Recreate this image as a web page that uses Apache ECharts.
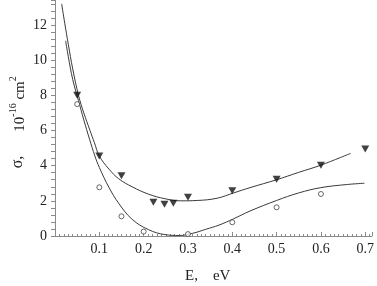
<!DOCTYPE html>
<html><head><meta charset="utf-8">
<script src="https://cdn.jsdelivr.net/npm/echarts@6/dist/echarts.min.js"></script>
<style>html,body{margin:0;padding:0;background:#fff}#c{width:377px;height:286px}</style>
</head><body><div id="c"></div>
<script>
// Measured points (filled triangles)
const triE = [0.05, 0.1, 0.15, 0.222, 0.247, 0.267, 0.3, 0.4, 0.5, 0.6, 0.7];
const triS = [8.0, 4.55, 3.43, 1.92, 1.80, 1.86, 2.20, 2.58, 3.22, 4.02, 4.95];
// Measured points (open circles)
const circE = [0.05, 0.1, 0.15, 0.2, 0.3, 0.4, 0.5, 0.6];
const circS = [7.5, 2.77, 1.12, 0.25, 0.11, 0.78, 1.63, 2.39];
// Upper fitted curve
const upE = [0.015, 0.022, 0.03, 0.04, 0.053, 0.065, 0.079, 0.089, 0.1, 0.122, 0.144, 0.174, 0.211, 0.248, 0.284, 0.321, 0.366, 0.403, 0.44, 0.5, 0.55, 0.6, 0.667];
const upS = [13.2, 12.1, 10.9, 9.5, 8.0, 7.0, 6.0, 5.3, 4.55, 3.8, 3.25, 2.8, 2.38, 2.12, 2.0, 2.02, 2.15, 2.45, 2.75, 3.2, 3.62, 4.03, 4.7];
// Lower fitted curve
const loE = [0.024, 0.03, 0.04, 0.053, 0.065, 0.078, 0.09, 0.1, 0.122, 0.144, 0.174, 0.211, 0.248, 0.28, 0.31, 0.34, 0.37, 0.403, 0.44, 0.5, 0.55, 0.6, 0.66, 0.698];
const loS = [11.1, 10.2, 8.9, 7.7, 6.6, 5.5, 4.55, 3.9, 2.75, 1.85, 0.95, 0.36, 0.08, 0.03, 0.15, 0.38, 0.62, 0.98, 1.42, 2.02, 2.45, 2.75, 2.93, 3.0];
// Axis ticks
const xTicks = [0.1, 0.2, 0.3, 0.4, 0.5, 0.6, 0.7];
const yTicks = [0, 2, 4, 6, 8, 10, 12];

const zip = (a, b) => a.map((v, i) => [v, b[i]]);
const FONT = 'Liberation Serif';
const chart = echarts.init(document.getElementById('c'), null, {renderer: 'canvas'});
chart.setOption({
  animation: false,
  backgroundColor: '#fff',
  grid: {left: 55, right: 0, top: 0, bottom: 50, containLabel: false},
  xAxis: {
    type: 'value', min: 0, max: 0.715, interval: 0.1,
    axisLine: {lineStyle: {color: '#8a8a8a', width: 1}},
    axisTick: {show: true, inside: true, length: 4, lineStyle: {color: '#8a8a8a'}},
    minorTick: {show: true, splitNumber: 10, length: 2, lineStyle: {color: '#8a8a8a'}},
    splitLine: {show: false},
    axisLabel: {
      fontFamily: FONT, fontSize: 14, color: '#222', margin: 6, showMaxLabel: false,
      formatter: v => (xTicks.some(t => Math.abs(t - v) < 1e-6) ? v.toFixed(1) : '')
    }
  },
  yAxis: {
    type: 'value', min: 0, max: 13.42, interval: 2,
    axisLine: {show: true, lineStyle: {color: '#8a8a8a', width: 1}},
    axisTick: {show: true, inside: false, length: 4, lineStyle: {color: '#8a8a8a'}},
    minorTick: {show: true, splitNumber: 5, length: 4, lineStyle: {color: '#8a8a8a'}},
    splitLine: {show: false},
    axisLabel: {
      fontFamily: FONT, fontSize: 14, color: '#222', margin: 8, showMaxLabel: false,
      formatter: v => (yTicks.includes(Math.round(v)) && Math.abs(v - Math.round(v)) < 1e-6 ? String(Math.round(v)) : '')
    }
  },
  graphic: [
    {type: 'text', left: 185, top: 269, style: {text: 'E,    eV', font: '15px "Liberation Serif"', fill: '#222'}},
    {type: 'text', x: 18, y: 162, rotation: Math.PI / 2,
      style: {text: 'σ,', font: '16px "Liberation Serif"', fill: '#222', align: 'center', verticalAlign: 'middle'}},
    {type: 'text', x: 18, y: 104, rotation: Math.PI / 2,
      style: {
        text: '{n|10}{s|-16}{n| cm}{s|2}', align: 'center', verticalAlign: 'middle',
        rich: {
          n: {fontFamily: FONT, fontSize: 15, fill: '#222', verticalAlign: 'bottom', lineHeight: 20},
          s: {fontFamily: FONT, fontSize: 10, fill: '#222', verticalAlign: 'top', lineHeight: 20}
        }
      }}
  ],
  series: [
    {type: 'line', data: zip(upE, upS), smooth: 0.4, showSymbol: false, symbol: 'none',
      lineStyle: {color: '#3a3a3a', width: 1}, z: 2},
    {type: 'line', data: zip(loE, loS), smooth: 0.4, showSymbol: false, symbol: 'none',
      lineStyle: {color: '#3a3a3a', width: 1}, z: 2},
    {type: 'scatter', data: zip(triE, triS), symbol: 'triangle', symbolRotate: 180, symbolSize: [8, 7],
      itemStyle: {color: '#111'}, z: 3},
    {type: 'scatter', data: zip(circE, circS), symbol: 'circle', symbolSize: 5,
      itemStyle: {color: '#fff', borderColor: '#444', borderWidth: 1}, z: 3}
  ]
});
</script></body></html>
